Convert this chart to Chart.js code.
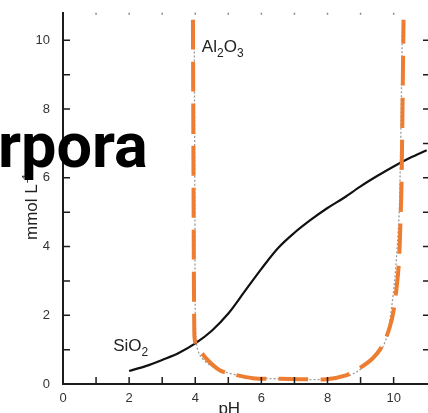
<!DOCTYPE html>
<html>
<head>
<meta charset="utf-8">
<script src="https://cdn.jsdelivr.net/npm/chart.js@4.4.1/dist/chart.umd.min.js"></script>
<style>
  html, body { margin: 0; padding: 0; background: #fff; overflow: hidden; }
  #wrap { position: relative; width: 428px; height: 413px; overflow: hidden; }
  #wrap canvas { position: absolute; left: 0; top: 0; }
  .overlay { position: absolute; left: -2px; top: 114px; font: bold 63px Roboto, sans-serif; line-height: 1; color: #000; z-index: 2; }
</style>
</head>
<body>
<div id="wrap">
  <canvas id="chart" width="432" height="413"></canvas>
  <div class="overlay">rpora</div>
</div>
<script>
// SiO2 solubility curve
const siO2PH = [2.0, 2.5, 3.0, 3.5, 4.0, 4.5, 5.0, 5.5, 6.0, 6.5, 7.0, 7.5, 8.0, 8.5, 9.0, 9.5, 10.0, 10.5, 11.0];
const siO2Conc = [0.38, 0.52, 0.7, 0.9, 1.18, 1.55, 2.05, 2.7, 3.35, 3.95, 4.4, 4.78, 5.12, 5.42, 5.75, 6.05, 6.33, 6.58, 6.8];

// Al2O3 curve (orange dashed trace)
const al2O3PH = [3.93, 3.95, 3.97, 4.0, 4.14, 4.38, 4.74, 5.1, 5.74, 6.56, 7.16, 7.97, 8.58, 8.97, 9.37, 9.67, 9.88, 10.0, 10.15, 10.21, 10.24, 10.3];
const al2O3Conc = [10.6, 5.3, 1.6, 1.2, 0.98, 0.69, 0.4, 0.29, 0.17, 0.15, 0.14, 0.14, 0.26, 0.46, 0.75, 1.13, 1.65, 2.14, 3.4, 4.83, 5.9, 10.6];

// original (scanned) Al2O3 line under the orange trace
const scanPH = [3.97, 3.99, 4.02, 4.14, 4.44, 4.9, 5.6, 6.5, 7.85, 8.5, 8.88, 9.2, 9.58, 9.79, 9.88, 10.03, 10.12, 10.18, 10.27];
const scanConc = [10.6, 5.0, 1.3, 0.84, 0.55, 0.35, 0.2, 0.15, 0.13, 0.2, 0.35, 0.6, 0.92, 1.36, 1.8, 3.0, 4.16, 5.3, 10.6];

const xLabelTicks = [0, 2, 4, 6, 8, 10];
const yLabelTicks = [0, 2, 4, 6, 8, 10];

const toPoints = (xs, ys) => xs.map((x, i) => ({ x, y: ys[i] }));

const tickFont = { family: "'Liberation Sans', Arial, sans-serif", size: 13 };
const textFont = "'Liberation Sans', Arial, sans-serif";
const inkColor = "#1c1c1c";

function drawChem(ctx, parts, x, y) {
  parts.forEach(([txt, sub]) => {
    ctx.font = (sub ? "12px " : "17px ") + textFont;
    ctx.fillText(txt, x, sub ? y + 5 : y);
    x += ctx.measureText(txt).width;
  });
}

const framePlugin = {
  id: "frame",
  afterDraw(chart) {
    const { ctx, chartArea: area } = chart;
    const xs = chart.scales.x;
    const ys = chart.scales.y;
    ctx.save();
    ctx.strokeStyle = inkColor;
    ctx.lineWidth = 1.5;
    ctx.beginPath();
    // inward ticks on bottom, left and right
    for (let v = 1; v <= 10; v++) {
      const px = xs.getPixelForValue(v);
      ctx.moveTo(px, area.bottom);
      ctx.lineTo(px, area.bottom - 7);
      const py = ys.getPixelForValue(v);
      ctx.moveTo(area.left, py);
      ctx.lineTo(area.left + 7, py);
      ctx.moveTo(area.right, py);
      ctx.lineTo(area.right - 7, py);
    }
    ctx.stroke();
    // faint top ticks
    ctx.strokeStyle = "#8a8a8a";
    ctx.beginPath();
    for (let v = 1; v <= 10; v++) {
      const px = xs.getPixelForValue(v);
      ctx.moveTo(px, area.top);
      ctx.lineTo(px, area.top + 2);
    }
    ctx.stroke();

    // curve labels
    ctx.fillStyle = "#222";
    ctx.textBaseline = "alphabetic";
    ctx.textAlign = "left";
    drawChem(ctx, [["Al"], ["2", true], ["O"], ["3", true]], xs.getPixelForValue(4.2), ys.getPixelForValue(9.65));
    drawChem(ctx, [["SiO"], ["2", true]], xs.getPixelForValue(1.52), ys.getPixelForValue(0.95));

    // axis titles
    ctx.font = "17px " + textFont;
    ctx.fillText("pH", xs.getPixelForValue(4.7), chart.height + 1);

    ctx.translate(37, 240);
    ctx.rotate(-Math.PI / 2);
    ctx.font = "17px " + textFont;
    ctx.fillText("mmol L", 0, 0);
    const w = ctx.measureText("mmol L").width;
    ctx.font = "11px " + textFont;
    ctx.fillText("-1", w + 1, -7);
    ctx.restore();
  },
};

const chartCtx = document.getElementById("chart").getContext("2d");
const chart = new Chart(chartCtx, {
  type: "line",
  data: {
    datasets: [
      {
        label: "Al2O3",
        data: toPoints(al2O3PH, al2O3Conc),
        borderColor: "#ED7D31",
        borderWidth: 4,
        borderDash: [30, 12],
        pointRadius: 0,
        tension: 0.3,
      },
      {
        label: "Al2O3 (scan)",
        data: toPoints(scanPH, scanConc),
        borderColor: "#9a9a9a",
        borderWidth: 1.3,
        borderDash: [2, 2],
        pointRadius: 0,
        tension: 0.3,
      },
      {
        label: "SiO2",
        data: toPoints(siO2PH, siO2Conc),
        borderColor: "#111",
        borderWidth: 2.2,
        pointRadius: 0,
        cubicInterpolationMode: "monotone",
      },
    ],
  },
  options: {
    responsive: false,
    animation: false,
    layout: { padding: { top: 10, right: 2, left: 0, bottom: 0 } },
    plugins: {
      legend: { display: false },
      tooltip: { enabled: false },
    },
    scales: {
      x: {
        type: "linear",
        min: 0,
        max: 11.1,
        afterBuildTicks: (axis) => {
          axis.ticks = axis.ticks.filter((t) => Number.isInteger(t.value));
        },
        afterFit: (scale) => {
          scale.height = 29;
        },
        ticks: {
          stepSize: 1,
          autoSkip: false,
          maxRotation: 0,
          padding: -1,
          color: "#333",
          font: tickFont,
          callback: (value) => (xLabelTicks.includes(value) ? value : ""),
        },
        grid: { display: false },
        border: { display: true, color: inkColor, width: 2 },
      },
      y: {
        min: 0,
        max: 10.8,
        afterBuildTicks: (axis) => {
          axis.ticks = axis.ticks.filter((t) => Number.isInteger(t.value));
        },
        afterFit: (scale) => {
          scale.width = 63;
        },
        ticks: {
          stepSize: 1,
          autoSkip: false,
          padding: 5,
          color: "#333",
          font: tickFont,
          callback: (value) => (yLabelTicks.includes(value) ? value : ""),
        },
        grid: { display: false },
        border: { display: true, color: inkColor, width: 2 },
      },
    },
  },
  plugins: [framePlugin],
});
</script>
</body>
</html>
